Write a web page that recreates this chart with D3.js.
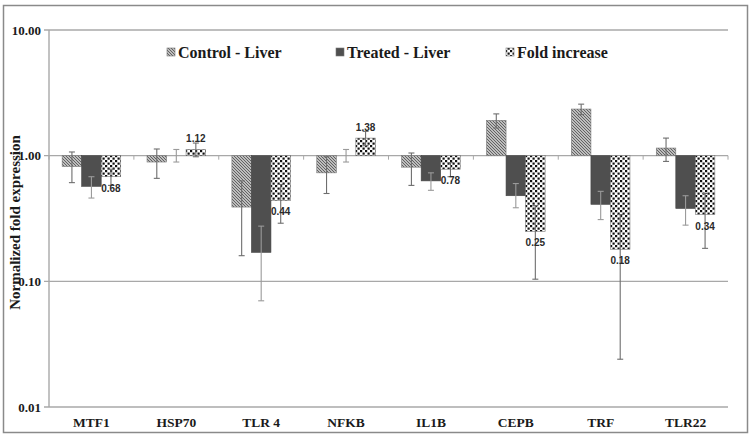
<!DOCTYPE html>
<html>
<head>
<meta charset="utf-8">
<script src="https://cdn.jsdelivr.net/npm/d3@7"></script>
<style>
  body { margin: 0; background: #fff; }
  text { font-family: "Liberation Serif", "Times New Roman", serif; font-weight: bold; }
</style>
</head>
<body>
<div id="chartArea"></div>
<script>
const svgWidth = 755;
const svgHeight = 446;

// data
const genes = ['MTF1', 'HSP70', 'TLR 4', 'NFKB', 'IL1B', 'CEPB', 'TRF', 'TLR22'];
const seriesNames = ['Control - Liver', 'Treated - Liver', 'Fold increase'];

const control = [0.82, 0.89, 0.39, 0.73, 0.81, 1.91, 2.35, 1.15];
const treated = [0.57, 1.00, 0.17, 1.00, 0.63, 0.48, 0.41, 0.38];
const fold = [0.68, 1.12, 0.44, 1.38, 0.78, 0.25, 0.18, 0.34];

const controlLo = [0.61, 0.66, 0.16, 0.50, 0.58, 1.66, 2.12, 0.90];
const controlHi = [1.07, 1.13, 0.63, 0.98, 1.05, 2.15, 2.57, 1.38];
const treatedLo = [0.46, 0.89, 0.07, 0.89, 0.53, 0.385, 0.31, 0.28];
const treatedHi = [0.68, 1.12, 0.275, 1.12, 0.73, 0.60, 0.52, 0.48];
const foldLo = [0.58, 0.98, 0.29, 1.20, 0.68, 0.104, 0.024, 0.183];
const foldHi = [0.78, 1.26, 0.59, 1.56, 0.88, 0.40, 0.34, 0.50];

const yTicks = [10, 1, 0.1, 0.01];

const margin = { left: 49, right: 27, top: 30, bottom: 39 };

const canvas = d3.select('#chartArea')
  .append('svg')
  .attr('width', svgWidth)
  .attr('height', svgHeight);

// patterns
const defs = canvas.append('defs');

const hatch = defs.append('pattern')
  .attr('id', 'hatch')
  .attr('patternUnits', 'userSpaceOnUse')
  .attr('width', 3)
  .attr('height', 3);
hatch.append('rect').attr('width', 3).attr('height', 3).attr('fill', '#bdbdbd');
hatch.append('path')
  .attr('d', 'M-1,-1 L4,4 M-1,2 L1,4 M2,-1 L4,1')
  .attr('stroke', '#626262')
  .attr('stroke-width', 1);

const checker = defs.append('pattern')
  .attr('id', 'checker')
  .attr('patternUnits', 'userSpaceOnUse')
  .attr('width', 5)
  .attr('height', 5);
checker.append('rect').attr('width', 5).attr('height', 5).attr('fill', '#fff');
checker.append('rect').attr('x', 0).attr('y', 0).attr('width', 2.2).attr('height', 2.2).attr('fill', '#111');
checker.append('rect').attr('x', 2.5).attr('y', 2.5).attr('width', 2.2).attr('height', 2.2).attr('fill', '#111');

const fills = ['url(#hatch)', '#4f4f4f', 'url(#checker)'];

// outer frame
canvas.append('rect')
  .attr('x', 3.5)
  .attr('y', 5.5)
  .attr('width', 744)
  .attr('height', 427)
  .attr('fill', '#fff')
  .attr('stroke', '#8a8a8a')
  .attr('stroke-width', 1.5);

const x = d3.scaleBand()
  .domain(genes)
  .range([margin.left, svgWidth - margin.right])
  .paddingInner(0.31)
  .paddingOuter(0.155);

const xSub = d3.scaleBand()
  .domain(d3.range(3))
  .range([0, x.bandwidth()]);

const y = d3.scaleLog()
  .domain([0.01, 10])
  .range([svgHeight - margin.bottom, margin.top]);

// gridlines
canvas.append('g')
  .selectAll('line')
  .data(yTicks)
  .join('line')
  .attr('x1', margin.left - 5)
  .attr('x2', svgWidth - margin.right)
  .attr('y1', d => y(d))
  .attr('y2', d => y(d))
  .attr('stroke', '#a8a8a8')
  .attr('stroke-width', 1.4);

// y axis line
canvas.append('line')
  .attr('x1', margin.left)
  .attr('x2', margin.left)
  .attr('y1', y(10))
  .attr('y2', y(0.01))
  .attr('stroke', '#a8a8a8')
  .attr('stroke-width', 1.4);

canvas.append('g')
  .selectAll('text')
  .data(yTicks)
  .join('text')
  .attr('x', margin.left - 8)
  .attr('y', d => y(d) + 4.5)
  .attr('text-anchor', 'end')
  .attr('font-size', 13)
  .attr('fill', '#1a1a1a')
  .text(d => d3.format('.2f')(d));

canvas.append('text')
  .attr('transform', `translate(20,${(y(10) + y(0.01)) / 2 + 4}) rotate(-90)`)
  .attr('text-anchor', 'middle')
  .attr('font-size', 15)
  .attr('fill', '#1a1a1a')
  .text('Normalized fold expression');

// category tick marks on the 1.00 line
const boundaries = genes.map(g => x(g) - x.step() * x.paddingInner() / 2);
boundaries.push(svgWidth - margin.right);
canvas.append('g')
  .selectAll('line')
  .data(boundaries)
  .join('line')
  .attr('x1', d => d)
  .attr('x2', d => d)
  .attr('y1', y(1))
  .attr('y2', y(1) + 4)
  .attr('stroke', '#a8a8a8')
  .attr('stroke-width', 1);

// x labels
canvas.append('g')
  .selectAll('text')
  .data(genes)
  .join('text')
  .attr('x', d => x(d) + x.bandwidth() / 2)
  .attr('y', svgHeight - margin.bottom + 20)
  .attr('text-anchor', 'middle')
  .attr('font-size', 13.5)
  .attr('fill', '#1a1a1a')
  .text(d => d);

// bars
const series = [
  { vals: control, lo: controlLo, hi: controlHi },
  { vals: treated, lo: treatedLo, hi: treatedHi },
  { vals: fold, lo: foldLo, hi: foldHi }
];

series.forEach((s, si) => {
  const g = canvas.append('g');
  g.selectAll('rect')
    .data(genes)
    .join('rect')
    .attr('x', d => x(d) + xSub(si))
    .attr('width', xSub.bandwidth())
    .attr('y', (d, i) => Math.min(y(s.vals[i]), y(1)))
    .attr('height', (d, i) => Math.abs(y(s.vals[i]) - y(1)))
    .attr('fill', fills[si])
    .attr('stroke', si === 1 ? '#444' : '#777')
    .attr('stroke-width', 0.6);
});

// error bars
series.forEach((s, si) => {
  const g = canvas.append('g')
    .attr('stroke', si === 1 ? '#9a9a9a' : '#6e6e6e')
    .attr('stroke-width', 1.1);
  genes.forEach((d, i) => {
    const cx = x(d) + xSub(si) + xSub.bandwidth() / 2;
    g.append('line')
      .attr('x1', cx).attr('x2', cx)
      .attr('y1', y(s.hi[i])).attr('y2', y(s.lo[i]));
    [s.hi[i], s.lo[i]].forEach(v => {
      g.append('line')
        .attr('x1', cx - 3).attr('x2', cx + 3)
        .attr('y1', y(v)).attr('y2', y(v));
    });
  });
});

// value labels on fold increase
canvas.append('g')
  .selectAll('text')
  .data(genes)
  .join('text')
  .attr('x', d => x(d) + xSub(2) + xSub.bandwidth() / 2)
  .attr('y', (d, i) => fold[i] > 1 ? y(fold[i]) - 7 : y(fold[i]) + 15)
  .attr('text-anchor', 'middle')
  .style('font-family', '"Liberation Sans", Arial, sans-serif')
  .attr('font-size', 10)
  .attr('fill', '#2a2a2a')
  .text((d, i) => d3.format('.2f')(fold[i]));

// legend
const legendX = [167, 336, 506];
const legend = canvas.append('g');
seriesNames.forEach((name, i) => {
  legend.append('rect')
    .attr('x', legendX[i])
    .attr('y', 48)
    .attr('width', 8)
    .attr('height', 8)
    .attr('fill', fills[i])
    .attr('stroke', '#777')
    .attr('stroke-width', 0.6);
  legend.append('text')
    .attr('x', legendX[i] + 11)
    .attr('y', 57.5)
    .attr('font-size', 16)
    .attr('fill', '#1a1a1a')
    .text(name);
});
</script>
</body>
</html>
